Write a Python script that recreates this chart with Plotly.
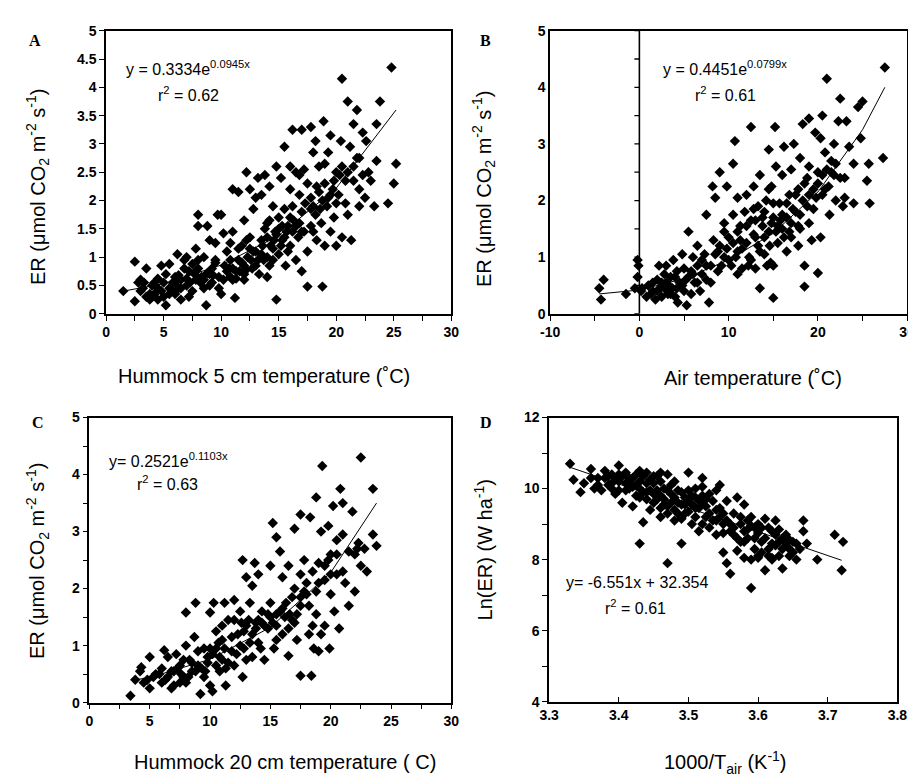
import plotly.graph_objects as go

# ---------------- DATA ----------------
a_points = [
    (1.5,0.40),(2.5,0.92),(2.5,0.22),(2.8,0.55),(3.0,0.60),(3.2,0.45),(3.5,0.80),(3.5,0.30),(3.8,0.25),(4.0,0.50),
    (4.2,0.35),(4.5,0.62),(4.8,0.85),(4.8,0.40),(5.0,0.30),(5.2,0.15),(5.2,0.70),(5.5,0.45),(5.5,0.88),(5.8,0.55),
    (6.0,0.35),(6.2,1.05),(6.3,0.68),(6.5,0.25),(6.5,0.60),(6.8,0.95),(7.0,1.00),(7.0,0.50),(7.2,0.75),(7.5,0.40),
    (7.5,0.88),(7.8,1.15),(7.8,0.60),(8.0,1.75),(8.0,1.55),(8.0,0.80),(8.3,0.65),(8.5,0.45),(8.5,1.00),(8.7,0.15),
    (8.8,1.55),(9.0,0.70),(9.0,1.30),(9.2,0.55),(9.5,0.90),(9.5,1.25),(9.7,1.75),(10.0,1.75),(10.0,0.35),(10.2,1.42),
    (10.3,0.85),(10.5,1.10),(10.8,0.65),(11.0,2.20),(11.0,1.45),(11.0,0.80),(11.2,0.28),(11.3,0.75),(11.5,1.15),(11.5,2.15),
    (11.8,0.90),(12.0,1.65),(12.0,0.60),(12.2,2.50),(12.3,1.00),(12.5,2.20),(12.5,1.35),(12.7,0.80),(12.8,1.85),(13.0,1.10),
    (13.0,2.05),(13.2,2.40),(13.3,0.70),(13.5,1.30),(13.5,2.10),(13.7,0.95),(13.8,2.45),(14.0,1.60),(14.0,0.65),(14.2,2.25),
    (14.3,1.20),(14.5,1.90),(14.5,0.95),(14.7,1.45),(14.8,0.25),(14.8,2.60),(15.0,1.70),(15.0,1.05),(15.2,2.40),(15.3,1.30),
    (15.5,2.95),(15.5,1.85),(15.6,0.85),(15.8,1.55),(16.0,1.20),(16.0,2.20),(16.2,3.25),(16.3,1.65),(16.5,2.50),(16.5,0.95),
    (16.7,1.35),(16.8,2.10),(17.0,3.25),(17.0,0.75),(17.0,1.80),(17.2,2.55),(17.5,0.48),(17.5,1.10),(17.5,2.30),(17.8,3.30),
    (17.8,1.55),(18.0,2.85),(18.0,1.90),(18.2,3.05),(18.3,1.30),(18.5,2.15),(18.5,2.60),(18.7,1.60),(18.8,0.48),(18.9,3.40),
    (19.0,1.20),(19.0,2.65),(19.2,1.90),(19.3,2.85),(19.5,1.45),(19.5,3.15),(19.7,2.20),(19.8,1.70),(20.0,2.50),(20.0,1.20),
    (20.2,2.10),(20.4,3.05),(20.5,1.35),(20.5,4.15),(20.8,2.35),(21.0,3.75),(21.0,1.75),(21.2,2.95),(21.3,1.30),(21.5,2.60),
    (21.5,3.35),(21.8,3.60),(22.0,2.20),(22.0,1.90),(22.3,3.20),(22.5,2.05),(22.6,3.05),(22.8,2.50),(23.0,2.35),(23.3,1.90),
    (23.5,2.70),(23.5,3.35),(23.8,3.75),(24.5,1.95),(24.8,4.35),(25.0,2.30),(25.2,2.65),
    (5.5,0.35),(5.8,0.40),(6.0,0.65),(6.5,0.45),(7.0,0.62),(7.3,0.55),(7.8,0.75),(8.2,0.55),(8.8,0.72),(9.0,0.50),
    (9.3,0.68),(9.8,0.65),(10.5,0.75),(10.8,0.95),(11.3,0.62),(11.6,0.75),(12.0,0.85),(12.2,0.78),(12.8,1.10),(13.2,0.95),
    (13.5,1.05),(14.0,1.35),(14.2,0.85),(14.8,1.40),(15.0,1.50),(15.3,1.55),(15.5,1.35),(15.8,1.10),(16.2,1.45),(16.8,1.60),
    (17.2,1.45),(17.8,1.85),(18.2,1.75),(18.8,2.00),(19.3,2.05),(19.8,2.35),(20.3,2.45),(20.8,1.95),(21.5,2.35),(22.0,2.75),
    (16.0,2.60),(16.8,2.45),(14.5,1.15),(13.8,1.50),(12.5,1.15),(11.8,1.20),(10.8,1.25),(9.5,0.95),(8.0,0.95),(6.8,0.80),
    (6.0,0.55),(4.5,0.45),(3.8,0.35),(3.0,0.40),(4.2,0.55),
    (3.3,0.55),(4.0,0.30),(4.5,0.25),(5.0,0.55),(6.3,0.45),(7.2,0.30),(7.7,0.70),(8.5,0.60),(9.2,0.80),(9.8,0.45),
    (10.2,0.60),(10.7,0.80),(11.0,0.60),(11.5,0.95),(12.0,0.70),(12.6,0.95),(13.0,0.85),(13.6,1.20),(14.0,1.00),(14.6,1.30),
    (15.2,1.20),(15.7,1.45),(16.0,1.70),(16.5,1.55),(17.0,1.45),(17.3,1.95),(17.8,2.05),(18.3,2.25),(18.6,1.85),(19.0,2.30),
    (19.5,2.10),(20.0,1.95),(20.5,2.60),(21.0,2.50),(21.8,2.75),(22.3,2.45),(18.0,1.45),(16.2,1.90),(14.2,1.65),(12.2,1.30),
]
a_fit_x = [1.5, 5, 10, 15, 20, 25.2]
a_fit_y = [0.40, 0.53, 0.86, 1.38, 2.22, 3.60]

b_points = [
    (-4.5,0.45),(-4.3,0.25),(-4.0,0.60),(-1.5,0.35),(-0.5,0.45),(-0.2,0.95),(-0.2,0.65),(-0.1,0.85),(0.2,0.40),(0.3,0.45),
    (1.0,0.50),(1.3,0.35),(1.5,0.55),(1.8,0.25),(2.0,0.60),(2.2,0.85),(2.3,0.45),(2.5,0.30),(2.8,0.70),(3.0,0.55),
    (3.0,0.85),(3.2,0.35),(3.5,0.65),(3.7,0.45),(3.8,0.95),(4.0,0.30),(4.2,0.75),(4.3,0.20),(4.5,0.55),(4.8,1.05),
    (5.0,0.40),(5.0,0.80),(5.3,0.15),(5.5,1.45),(5.5,0.65),(5.8,0.35),(6.0,1.00),(6.2,0.55),(6.5,1.20),(6.5,0.85),
    (6.8,0.40),(7.0,0.70),(7.3,1.05),(7.5,1.75),(7.5,0.60),(7.8,0.20),(8.0,0.85),(8.2,2.25),(8.3,1.30),(8.5,2.05),
    (8.8,0.75),(9.0,2.50),(9.0,1.20),(9.5,1.00),(9.5,1.60),(9.8,2.25),(10.0,1.35),(10.3,0.85),(10.5,2.65),(10.5,1.75),
    (10.7,3.05),(11.0,1.10),(11.0,2.05),(11.3,1.55),(11.5,0.80),(11.8,1.80),(12.0,1.25),(12.0,2.10),(12.3,1.00),(12.5,1.65),
    (12.5,3.30),(12.8,2.25),(13.0,1.35),(13.0,0.80),(13.3,1.90),(13.5,2.45),(13.5,0.45),(13.8,1.55),(14.0,1.05),(14.2,2.00),
    (14.5,1.45),(14.5,2.90),(14.7,0.90),(14.8,2.25),(15.0,0.28),(15.0,1.70),(15.2,3.30),(15.3,2.60),(15.5,1.25),(15.7,1.95),
    (16.0,2.45),(16.0,1.50),(16.2,2.95),(16.5,1.70),(16.8,2.10),(17.0,2.55),(17.0,1.35),(17.3,3.00),(17.5,1.80),(17.8,2.20),
    (18.0,2.75),(18.0,1.50),(18.3,3.35),(18.5,0.85),(18.5,0.48),(18.5,2.30),(18.8,1.90),(19.0,3.45),(19.0,2.60),(19.3,1.30),
    (19.5,2.20),(19.7,3.20),(20.0,2.50),(20.0,0.72),(20.3,1.35),(20.5,3.50),(20.5,2.10),(20.8,2.85),(21.0,2.55),(21.0,4.15),
    (21.3,1.75),(21.5,2.50),(21.8,3.00),(22.0,2.00),(22.3,3.40),(22.5,2.40),(22.5,3.80),(22.8,1.90),(23.0,2.05),(23.2,3.40),
    (23.5,2.95),(24.0,2.65),(24.0,1.95),(24.5,3.65),(24.8,3.10),(25.0,3.75),(25.5,2.35),(25.7,2.65),(25.8,1.95),(27.3,2.75),
    (27.5,4.35),
    (1.5,0.40),(2.5,0.55),(3.3,0.50),(4.0,0.65),(4.8,0.50),(5.8,0.75),(6.5,0.55),(7.0,0.95),(8.0,0.55),(8.5,1.05),
    (9.2,0.85),(10.0,0.95),(10.5,1.25),(11.0,1.45),(11.5,1.15),(12.0,1.55),(12.5,0.95),(13.0,1.65),(13.3,1.20),(13.8,1.70),
    (14.0,1.35),(14.3,0.85),(14.8,1.60),(15.0,0.85),(15.3,1.45),(15.8,1.65),(16.2,1.35),(16.5,1.95),(17.0,1.60),(17.5,2.10),
    (18.0,1.75),(18.8,2.40),(19.5,1.85),(20.0,2.30),(20.8,2.20),(21.5,2.70),(11.0,0.70),(12.8,1.85),(14.5,2.20),(16.5,1.10),
    (17.8,1.20),(19.0,1.60),(20.3,3.10),(21.8,2.45),(9.5,1.45),
    (0.8,0.30),(2.0,0.40),(2.8,0.45),(3.5,0.35),(4.2,0.45),(5.2,0.60),(6.0,0.70),(7.5,0.85),(8.8,1.10),(9.8,1.15),
    (10.8,1.00),(11.3,1.30),(12.2,0.85),(12.8,1.40),(13.5,1.10),(14.0,1.80),(14.6,1.20),(15.0,1.95),(15.5,1.55),(16.0,1.75),
    (16.8,1.45),(17.2,1.85),(17.8,1.55),(18.3,2.00),(19.0,2.10),(19.8,2.05),(20.5,2.45),(21.2,2.25),(22.0,2.65),(23.0,2.40),
]
b_fit_x = [-4.5, 0, 5, 10, 15, 20, 25, 27.5]
b_fit_y = [0.35, 0.42, 0.62, 0.95, 1.42, 2.15, 3.25, 4.00]

c_points = [
    (3.4,0.12),(3.8,0.40),(4.2,0.55),(4.3,0.62),(4.5,0.35),(5.0,0.80),(5.0,0.25),(5.3,0.45),(5.8,0.50),(6.0,0.60),
    (6.2,0.92),(6.3,0.40),(6.5,0.80),(6.8,0.25),(7.0,0.55),(7.2,0.85),(7.5,0.35),(7.5,0.65),(7.8,0.45),(8.0,1.00),
    (8.0,1.58),(8.3,0.75),(8.5,0.55),(8.7,1.15),(8.8,1.75),(9.0,0.65),(9.2,0.15),(9.5,0.95),(9.5,0.45),(9.8,0.80),
    (10.0,1.58),(10.0,0.30),(10.2,0.20),(10.3,1.75),(10.5,0.95),(10.5,1.25),(10.8,0.55),(11.0,0.75),(11.0,1.10),(11.2,1.75),
    (11.3,0.30),(11.5,1.45),(11.8,0.90),(12.0,1.80),(12.0,0.65),(12.3,1.20),(12.5,1.60),(12.7,2.50),(12.7,0.45),(12.8,0.95),
    (13.0,2.20),(13.0,1.35),(13.3,1.75),(13.5,2.05),(13.5,0.80),(13.7,2.45),(13.8,1.40),(14.0,2.25),(14.0,1.05),(14.3,1.60),
    (14.5,0.75),(14.8,1.30),(15.0,2.40),(15.0,1.75),(15.2,3.15),(15.3,0.95),(15.5,2.90),(15.5,1.55),(15.8,2.65),(16.0,1.20),
    (16.0,2.20),(16.3,1.75),(16.5,0.82),(16.5,2.40),(16.8,1.45),(17.0,3.05),(17.0,2.00),(17.2,1.10),(17.5,0.47),(17.5,3.30),
    (17.5,1.70),(17.8,2.50),(18.0,1.90),(18.2,1.20),(18.3,3.25),(18.4,0.47),(18.5,2.30),(18.6,0.95),(18.8,3.60),(18.8,1.55),
    (19.0,2.45),(19.0,0.90),(19.2,3.00),(19.3,4.15),(19.5,2.15),(19.5,1.35),(19.8,3.10),(19.9,0.95),(20.0,2.60),(20.0,1.90),
    (20.2,3.45),(20.3,1.60),(20.5,2.25),(20.5,2.85),(20.7,1.30),(20.8,3.75),(21.0,2.95),(21.0,3.50),(21.2,2.10),(21.5,1.70),
    (21.8,3.35),(22.0,2.60),(22.0,1.95),(22.3,2.80),(22.5,4.30),(22.5,2.40),(22.8,2.70),(23.0,2.30),(23.5,2.95),(23.5,3.75),
    (23.8,2.75),
    (4.8,0.40),(5.5,0.50),(6.0,0.35),(6.5,0.45),(7.0,0.30),(7.3,0.60),(7.8,0.75),(8.2,0.45),(8.5,0.70),(8.8,0.55),
    (9.0,0.90),(9.3,0.60),(9.8,0.70),(10.2,0.85),(10.5,0.65),(10.8,0.80),(11.2,0.95),(11.5,0.70),(11.8,1.15),(12.2,0.85),
    (12.5,1.00),(12.8,1.25),(13.2,1.45),(13.5,1.20),(14.0,1.45),(14.5,1.35),(14.8,1.55),(15.2,1.40),(15.8,1.60),(16.2,1.50),
    (16.8,1.85),(17.2,1.55),(17.8,1.95),(18.2,1.70),(18.5,1.35),(19.0,2.10),(19.5,2.40),(20.0,2.25),(20.5,2.60),(21.0,2.30),
    (21.5,2.65),(22.2,2.70),(16.5,1.30),(15.5,1.10),(14.2,0.95),(13.0,0.75),(12.0,1.45),(11.0,1.35),(17.5,2.25),(19.2,1.20),
    (6.8,0.55),(7.6,0.50),(8.0,0.35),(9.6,0.55),(10.0,0.95),(10.7,1.05),(11.3,0.60),(12.6,1.40),(13.3,1.05),(13.8,1.30),
    (14.3,1.40),(15.0,1.50),(15.5,1.35),(16.0,1.65),(16.6,1.55),(17.0,1.40),(17.5,1.85),(18.0,2.10),(18.8,1.95),(19.8,2.50),
]
c_fit_x = [3.8, 5, 10, 15, 20, 23.8]
c_fit_y = [0.40, 0.44, 0.76, 1.32, 2.28, 3.50]

d_points = [
    (3.33,10.7),(3.335,10.25),(3.345,9.9),(3.35,10.15),(3.36,10.55),(3.365,10.0),(3.37,10.3),(3.375,9.95),(3.38,10.5),(3.385,10.1),
    (3.39,10.4),(3.395,9.85),(3.40,10.65),(3.40,10.2),(3.405,9.6),(3.41,10.45),(3.41,9.95),(3.415,10.3),(3.42,9.5),(3.42,10.05),
    (3.425,10.4),(3.43,9.75),(3.43,10.2),(3.435,9.05),(3.43,8.45),(3.44,10.45),(3.44,9.9),(3.445,9.4),(3.45,10.15),(3.45,9.6),
    (3.455,10.35),(3.46,9.8),(3.46,9.2),(3.465,10.0),(3.47,10.4),(3.47,9.5),(3.47,7.9),(3.475,9.85),(3.48,9.1),(3.48,10.2),
    (3.485,9.6),(3.49,8.45),(3.49,9.9),(3.495,9.3),(3.50,10.45),(3.50,9.7),(3.505,9.0),(3.51,9.45),(3.51,10.0),(3.515,8.8),
    (3.52,9.6),(3.52,10.3),(3.525,9.2),(3.53,9.85),(3.53,8.9),(3.54,9.4),(3.54,8.7),(3.545,10.1),(3.55,9.0),(3.55,8.2),
    (3.555,9.65),(3.56,8.8),(3.56,7.6),(3.555,7.9),(3.565,9.3),(3.57,8.25),(3.575,9.0),(3.58,9.55),(3.58,8.5),(3.585,8.85),
    (3.59,8.0),(3.59,9.2),(3.59,7.2),(3.595,8.6),(3.60,9.0),(3.60,8.1),(3.605,8.5),(3.61,9.15),(3.61,7.7),(3.615,8.3),
    (3.62,8.8),(3.62,8.0),(3.625,9.1),(3.63,8.5),(3.63,8.1),(3.635,7.75),(3.64,8.7),(3.645,8.3),(3.65,8.5),(3.66,8.3),
    (3.665,9.1),(3.665,8.8),(3.67,8.45),(3.685,8.0),(3.71,8.7),(3.72,7.7),(3.722,8.5),
    (3.36,10.3),(3.37,10.1),(3.38,10.3),(3.385,10.35),(3.39,10.15),(3.395,10.3),(3.40,9.95),(3.405,10.35),(3.41,10.15),(3.415,10.0),
    (3.42,10.3),(3.425,9.8),(3.43,10.0),(3.435,10.35),(3.44,9.7),(3.44,10.15),(3.445,9.95),(3.45,9.85),(3.45,10.35),(3.455,9.7),
    (3.46,10.2),(3.46,9.45),(3.465,9.7),(3.47,9.95),(3.47,9.3),(3.475,10.1),(3.48,9.75),(3.48,9.4),(3.485,9.95),(3.49,9.55),
    (3.49,9.15),(3.495,9.75),(3.50,9.35),(3.50,9.95),(3.505,9.55),(3.51,9.2),(3.51,9.75),(3.515,9.45),(3.52,9.0),(3.52,9.8),
    (3.525,9.5),(3.53,9.3),(3.535,9.65),(3.54,9.1),(3.545,9.45),(3.55,9.3),(3.55,8.75),(3.56,9.0),(3.565,8.9),(3.57,8.6),
    (3.575,9.2),(3.58,8.8),(3.585,9.1),(3.59,8.95),(3.595,8.3),(3.60,8.75),(3.605,8.9),(3.61,8.6),(3.615,8.9),(3.62,8.45),
    (3.625,8.7),(3.63,8.85),(3.635,8.3),(3.64,8.45),(3.645,8.1),(3.65,8.2),(3.655,8.45),(3.46,10.45),(3.43,10.5),(3.52,10.05),
    (3.54,9.95),(3.57,9.75),
    (3.39,10.0),(3.40,10.4),(3.415,10.2),(3.425,10.1),(3.435,9.9),(3.445,10.25),(3.455,9.95),(3.465,9.55),(3.475,9.6),(3.485,9.3),
    (3.495,9.55),(3.505,9.8),(3.515,9.65),(3.525,9.7),(3.535,9.1),(3.545,9.2),(3.555,9.1),(3.565,8.7),(3.575,8.5),(3.585,8.6),
    (3.595,8.9),(3.605,8.2),(3.615,8.1),(3.625,8.4),(3.635,8.6),(3.645,8.55),(3.655,8.0),(3.60,8.05),(3.62,8.05),(3.58,8.05),
]
d_fit_x = [3.33, 3.72]
d_fit_y = [10.60, 7.98]

# tick labels
a_xticks = [0, 2.5, 5, 7.5, 10, 12.5, 15, 17.5, 20, 22.5, 25, 27.5, 30]
a_xlabels = ["0", "", "5", "", "10", "", "15", "", "20", "", "25", "", "30"]
a_yticks = [0, 0.5, 1, 1.5, 2, 2.5, 3, 3.5, 4, 4.5, 5]
a_ylabels = ["0", "0.5", "1", "1.5", "2", "2.5", "3", "3.5", "4", "4.5", "5"]
b_xticks = [-10, -5, 0, 5, 10, 15, 20, 25, 30]
b_xlabels = ["-10", "", "0", "", "10", "", "20", "", "30"]
b_yticks = [0, 1, 2, 3, 4, 5]
b_ylabels = ["0", "1", "2", "3", "4", "5"]
b_zero_ticks = [0, 0.5, 1, 1.5, 2, 2.5, 3, 3.5, 4, 4.5, 5]
c_xticks = a_xticks
c_xlabels = a_xlabels
c_yticks = [0, 0.5, 1, 1.5, 2, 2.5, 3, 3.5, 4, 4.5, 5]
c_ylabels = ["0", "", "1", "", "2", "", "3", "", "4", "", "5"]
d_xticks = [3.3, 3.4, 3.5, 3.6, 3.7, 3.8]
d_xlabels = ["3.3", "3.4", "3.5", "3.6", "3.7", "3.8"]
d_yticks = [4, 5, 6, 7, 8, 9, 10, 11, 12]
d_ylabels = ["4", "", "6", "", "8", "", "10", "", "12"]

# ---------------- FIGURE ----------------
W, H = 916, 779
FONT = "Arial, Liberation Sans, sans-serif"

def px_x(p):
    return p / W

def px_y(p):
    return 1 - p / H

fig = go.Figure()

marker = dict(symbol="diamond", size=8, color="black", line=dict(width=0))
line = dict(color="black", width=1)

panels = [
    ("x", "y", a_points, a_fit_x, a_fit_y),
    ("x2", "y2", b_points, b_fit_x, b_fit_y),
    ("x3", "y3", c_points, c_fit_x, c_fit_y),
    ("x4", "y4", d_points, d_fit_x, d_fit_y),
]
for xa, ya, pts, fx, fy in panels:
    fig.add_trace(go.Scatter(x=[p[0] for p in pts], y=[p[1] for p in pts], mode="markers",
                             marker=marker, xaxis=xa, yaxis=ya, showlegend=False, hoverinfo="skip"))
    fig.add_trace(go.Scatter(x=fx, y=fy, mode="lines", line=line, xaxis=xa, yaxis=ya,
                             showlegend=False, hoverinfo="skip"))

tickfont = dict(family=FONT, size=14, color="black", weight="bold")

def axis(domain, rng, tv, tt, anchor, ticks="outside", showticks=True):
    return dict(domain=domain, range=rng, tickvals=tv, ticktext=tt, anchor=anchor,
                showline=True, linecolor="black", linewidth=1.6, mirror=True,
                ticks=ticks if showticks else "", ticklen=5, tickwidth=1.3, tickcolor="black",
                showgrid=False, zeroline=False, tickfont=tickfont, fixedrange=True)

fig.update_layout(
    width=W, height=H, margin=dict(l=0, r=0, t=0, b=0),
    paper_bgcolor="white", plot_bgcolor="white",
    xaxis=axis([px_x(90), px_x(443)], [0, 30], a_xticks, a_xlabels, "y"),
    yaxis=axis([px_y(304), px_y(15)], [0, 5], a_yticks, a_ylabels, "x"),
    xaxis2=axis([px_x(544), px_x(909)], [-10, 30], b_xticks, b_xlabels, "y2"),
    yaxis2=axis([px_y(304), px_y(15)], [0, 5], b_yticks, b_ylabels, "x2", showticks=False),
    xaxis3=axis([px_x(73), px_x(443)], [0, 30], c_xticks, c_xlabels, "y3"),
    yaxis3=axis([px_y(701), px_y(410)], [0, 5], c_yticks, c_ylabels, "x3"),
    xaxis4=axis([px_x(543), px_x(899)], [3.3, 3.8], d_xticks, d_xlabels, "y4", ticks="inside"),
    yaxis4=axis([px_y(700), px_y(410)], [4, 12], d_yticks, d_ylabels, "x4"),
)

# Panel B: vertical axis line at x = 0 with tick marks
shapes = [dict(type="line", xref="x2", yref="y2", x0=0, x1=0, y0=0, y1=5,
               line=dict(color="black", width=1.6))]
for v in b_zero_ticks:
    shapes.append(dict(type="line", xref="x2", yref="y2", xsizemode="pixel", xanchor=0,
                       x0=-5, x1=0, y0=v, y1=v, line=dict(color="black", width=1.3)))
fig.update_layout(shapes=shapes)

ann = []
def text(x, y, s, size=20, rot=0, family=FONT, **kw):
    ann.append(dict(xref="paper", yref="paper", x=px_x(x), y=px_y(y), text=s, showarrow=False,
                    textangle=rot, font=dict(family=family, size=size, color="black"),
                    xanchor="center", yanchor="middle", **kw))

ytitle = "ER (μmol CO<sub>2</sub> m<sup>-2</sup> s<sup>-1</sup>)"
# axis titles
text(20, 175, ytitle, rot=-90)
text(476, 177, ytitle, rot=-90)
text(20, 557, ytitle, rot=-90)
text(476, 545, "Ln(ER) (W ha<sup>-1</sup>)", rot=-90)
text(252, 368, "Hummock 5 cm temperature (˚C)")
text(751, 370, "Air temperature (˚C)")
text(273, 762, "Hummock 20 cm temperature ( C)")
text(723, 762, "1000/T<sub>air</sub> (K<sup>-1</sup>)")

# panel letters
serif = "Times New Roman, Liberation Serif, serif"
text(17, 25, "<b>A</b>", size=16, family=serif)
text(478, 25, "<b>B</b>", size=16, family=serif)
text(20, 415, "<b>C</b>", size=16, family=serif)
text(478, 415, "<b>D</b>", size=16, family=serif)

# equations
text(174, 53, "y = 0.3334e<sup>0.0945x</sup>", size=16)
text(174, 80, "r<sup>2</sup> = 0.62", size=16)
text(723, 53, "y = 0.4451e<sup>0.0799x</sup>", size=16)
text(723, 80, "r<sup>2</sup> = 0.61", size=16)
text(154, 453, "y= 0.2521e<sup>0.1103x</sup>", size=16)
text(153, 477, "r<sup>2</sup> = 0.63", size=16)
text(633, 578, "y= -6.551x + 32.354", size=16)
text(631, 603, "r<sup>2</sup> = 0.61", size=16)

fig.update_layout(annotations=ann)

fig.write_html("out.html")
